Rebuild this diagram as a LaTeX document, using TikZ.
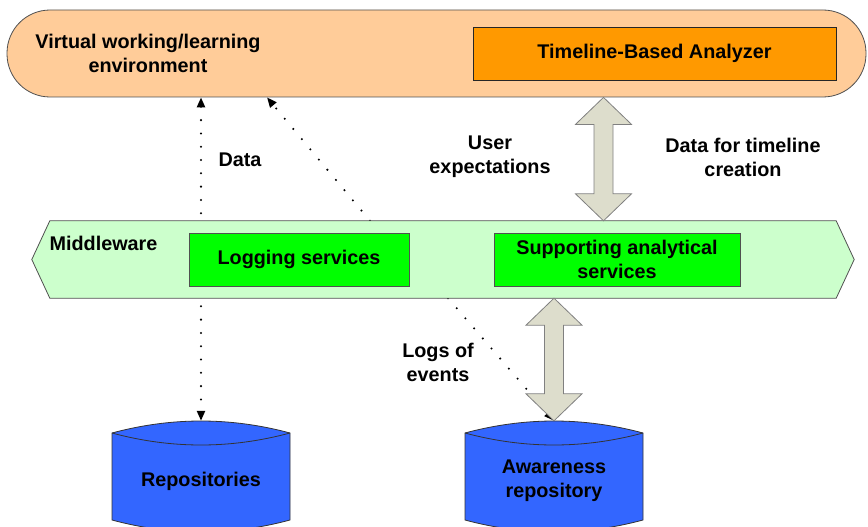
\documentclass[tikz,border=0pt]{standalone}
\usepackage{fontspec}
\setmainfont{Liberation Sans}
\usetikzlibrary{arrows.meta,calc,backgrounds}

\definecolor{envfill}{HTML}{FFCC99}
\definecolor{tbafill}{HTML}{FF9900}
\definecolor{mwfill}{HTML}{CCFFCC}
\definecolor{srvfill}{HTML}{00FF00}
\definecolor{drumfill}{HTML}{3366FF}
\definecolor{fatfill}{HTML}{DDDDCC}
\definecolor{edgegray}{HTML}{505050}

\tikzset{
  envbox/.style={draw=edgegray,fill=envfill,line width=0.8pt,rounded corners=43pt,
    minimum width=859pt,minimum height=87pt,inner sep=0pt},
  tbabox/.style={draw=black!85,fill=tbafill,line width=0.8pt,
    minimum width=363pt,minimum height=53pt,inner sep=0pt},
  srvbox/.style={draw=edgegray,fill=srvfill,line width=0.8pt,align=center,
    minimum height=53pt,inner sep=0pt},
  drum/.style={draw=black!80,fill=drumfill,line width=0.8pt},
  drumlbl/.style={minimum width=178pt,minimum height=120pt,inner sep=0pt,align=center},
  dotlink/.style={line width=2.3pt,line cap=round,dash pattern=on 0pt off 13.3pt,
    >={Triangle[length=10pt,width=8pt]}},
  fatarrow/.style={draw=gray,fill=fatfill,line width=0.8pt,line join=miter}
}

% block double arrow between two points on one vertical
\newcommand\fatlink[2]{%
  \draw[fatarrow] let \p1=(#1), \p2=(#2) in
    (\x1,\y1) -- (\x1+28pt,\y1-27pt) -- (\x1+9.5pt,\y1-27pt) -- (\x1+9.5pt,\y2+27pt)
    -- (\x1+28pt,\y2+27pt) -- (\x1,\y2) -- (\x1-28pt,\y2+27pt) -- (\x1-9.5pt,\y2+27pt)
    -- (\x1-9.5pt,\y1-27pt) -- (\x1-28pt,\y1-27pt) -- cycle;}

\begin{document}
\begin{tikzpicture}[x=1pt,y=-1pt,
  every node/.style={font=\fontsize{19.8pt}{24pt}\selectfont\bfseries}]
\useasboundingbox (0,0) rectangle (868,527);
\clip (0,0) rectangle (868,527);

% top: environment and analyzer
\node[envbox] (env) at (436.5,53.5) {};
\node[align=center] (envlbl) at (148,53) {Virtual working/learning\\environment};
\node[tbabox] (tba) at (654.5,53.5) {Timeline-Based Analyzer};

% middleware band
\node[minimum width=786pt,minimum height=77pt,inner sep=0pt] (mw) at (443,259.5) {};
\draw[draw=edgegray,fill=mwfill,line width=0.8pt] (mw.north west) -- (mw.north east)
  -- ([xshift=18pt]mw.east) -- (mw.south east) -- (mw.south west)
  -- ([xshift=-18pt]mw.west) -- cycle;
\node (mwlbl) at (103.5,243) {Middleware};
\node[srvbox,minimum width=220pt] (logsrv) at (299,259.5) {Logging services};
\node[srvbox,minimum width=246pt] (anasrv) at (617,259.5) {Supporting analytical\\services};

% repositories
\foreach \cx in {201,554} {
  \draw[drum] ({\cx-89},433) .. controls ({\cx-29.7},417) and ({\cx+29.7},417) .. ({\cx+89},433)
    -- ({\cx+89},520) .. controls ({\cx+29.7},536) and ({\cx-29.7},536) .. ({\cx-89},520) -- cycle;
  \draw[drum,fill=none] ({\cx-89},433) .. controls ({\cx-29.7},449) and ({\cx+29.7},449) .. ({\cx+89},433);
}
\node[drumlbl] (repo) at (201,481) {Repositories};
\node[drumlbl] (awrepo) at (554,481) {Awareness\\repository};

% dotted links
\begin{pgfonlayer}{background}
\draw[dotlink,<->] (repo.north |- env.south) -- (repo.north);
\draw[dotlink,->] ([xshift=-73pt]mw.north) -- ([xshift=-169.5pt]env.south);
\draw[dotlink,->] ([xshift=5pt]mw.south) -- (awrepo.north);
\end{pgfonlayer}

% block arrows
\coordinate (tatop) at ([xshift=167pt]env.south);
\coordinate (tabot) at (tatop |- mw.north);
\coordinate (awtop) at (awrepo.north |- mw.south);
\fatlink{tatop}{tabot}
\fatlink{awtop}{awrepo.north}

% labels
\node (datalbl) at (240,160) {Data};
\node[align=center] (userlbl) at (490,157) {User\\expectations};
\node[align=center] (tldata) at (743,157) {Data for timeline\\creation};
\node[align=center] (logslbl) at (438,362) {Logs of\\events};

\end{tikzpicture}
\end{document}
